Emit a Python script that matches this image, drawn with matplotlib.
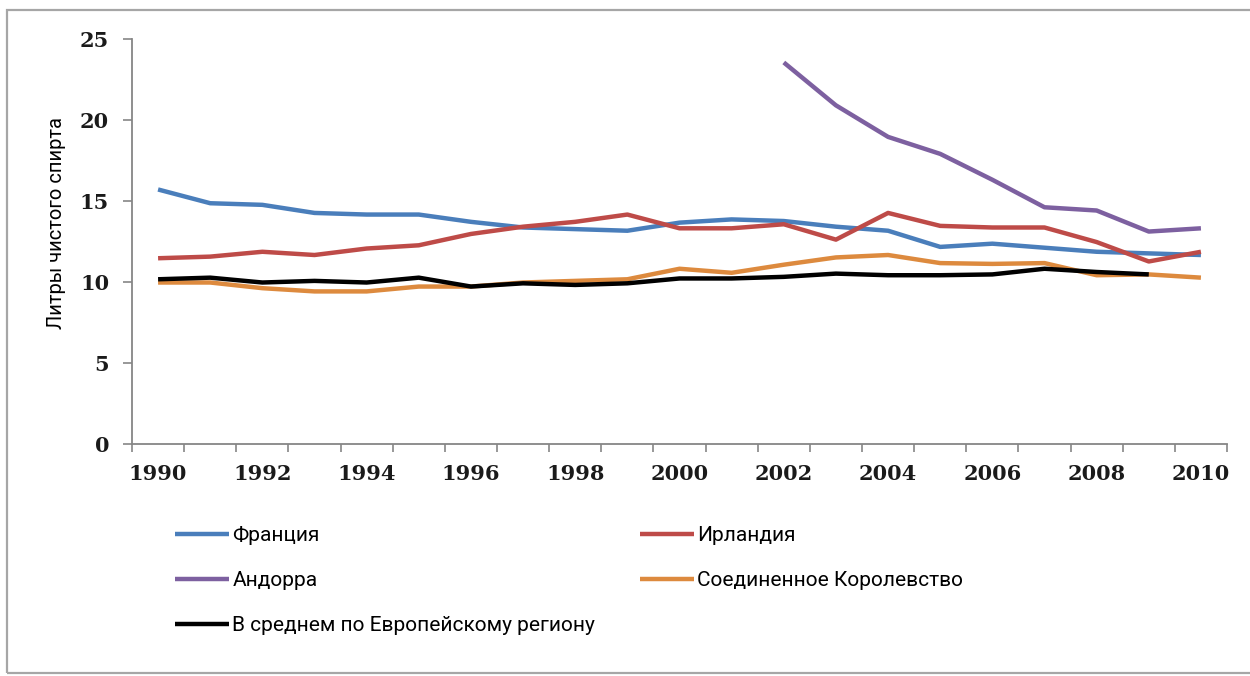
import numpy as np
import matplotlib
matplotlib.use("Agg")
import matplotlib.pyplot as plt
from matplotlib.patches import Rectangle

years = list(range(1990, 2011))
france = [15.7, 14.85, 14.75, 14.25, 14.15, 14.15, 13.7, 13.35, 13.25, 13.15,
          13.65, 13.85, 13.75, 13.4, 13.15, 12.15, 12.35, 12.1, 11.85, 11.75, 11.65]
ireland = [11.45, 11.55, 11.85, 11.65, 12.05, 12.25, 12.95, 13.4, 13.7, 14.15,
           13.3, 13.3, 13.55, 12.6, 14.25, 13.45, 13.35, 13.35, 12.45, 11.25, 11.85]
andorra = [np.nan] * 12 + [23.55, 20.9, 18.95, 17.9, 16.3, 14.6, 14.4, 13.1, 13.3]
uk = [9.95, 9.95, 9.6, 9.4, 9.4, 9.7, 9.7, 9.95, 10.05, 10.15,
      10.8, 10.55, 11.05, 11.5, 11.65, 11.15, 11.1, 11.15, 10.4, 10.45, 10.25]
eu_avg = [10.15, 10.25, 9.95, 10.05, 9.95, 10.25, 9.7, 9.9, 9.8, 9.9,
          10.2, 10.2, 10.3, 10.5, 10.4, 10.4, 10.45, 10.8, 10.6, 10.45, np.nan]

labels = ["Франция", "Ирландия", "Андорра", "Соединенное Королевство",
          "В среднем по Европейскому региону"]
colors = ["#4A7EBB", "#BE4B48", "#7D60A0", "#DD8A3E", "#000000"]
ylabel = "Литры чистого спирта"

W, H = 1250, 676
fig = plt.figure(figsize=(W / 100, H / 100), dpi=100)
ax = fig.add_axes([132 / W, 1 - 443.5 / H, (1227 - 132) / W, (443.5 - 39) / H])

x = np.arange(len(years))
series = [france, ireland, andorra, uk, eu_avg]
handles = []
for vals, lab, col in zip(series, labels, colors):
    h, = ax.plot(x, vals, color=col, lw=3.2, label=lab,
                 solid_joinstyle="round", solid_capstyle="butt")
    handles.append(h)

ax.set_xlim(-0.5, len(years) - 0.5)
ax.set_ylim(0, 25)
ax.set_yticks([0, 5, 10, 15, 20, 25])

ax.set_xticks(x[::2])
ax.set_xticklabels([str(y) for y in years[::2]])
ax.set_xticks(np.arange(-0.5, len(years), 1.0), minor=True)
ax.tick_params(axis="x", which="major", length=0, pad=15)
ax.tick_params(axis="x", which="minor", length=6, width=1.2, color="#868686",
               direction="out")
ax.tick_params(axis="y", length=6.5, width=1.2, color="#868686", pad=10,
               direction="out")

for lab in ax.get_xticklabels() + ax.get_yticklabels():
    lab.set_fontfamily(["DejaVu Serif"])
    lab.set_fontsize(15)
    lab.set_fontweight("bold")
    lab.set_color("#1a1a1a")

for s in ["top", "right"]:
    ax.spines[s].set_visible(False)
for s in ["left", "bottom"]:
    ax.spines[s].set_color("#868686")
    ax.spines[s].set_linewidth(1.3)

fig.text(57 / W, 1 - 223 / H, ylabel, rotation=90, ha="center", va="center",
         fontsize=14.5, family=["Roboto", "DejaVu Sans"], color="#000000")

# legends (two columns)
leg_kw = dict(frameon=False, handlelength=2.6, handletextpad=0.15,
              labelspacing=1.25, borderpad=0, borderaxespad=0,
              loc="upper left", labelcolor="#000000",
              prop={"family": ["Roboto", "DejaVu Sans"], "size": 15})
leg1 = fig.legend([handles[0], handles[2], handles[4]],
                  [labels[0], labels[2], labels[4]],
                  bbox_to_anchor=(175 / W, 1 - 526 / H), **leg_kw)
leg2 = fig.legend([handles[1], handles[3]], [labels[1], labels[3]],
                  bbox_to_anchor=(640 / W, 1 - 526 / H), **leg_kw)

# outer frame
fig.patches.append(Rectangle((7 / W, 1 - 673 / H), 1.2, (673 - 10) / H,
                             transform=fig.transFigure, fill=False,
                             edgecolor="#A6A6A6", lw=1.6))

fig.savefig("out.png", dpi=100)
